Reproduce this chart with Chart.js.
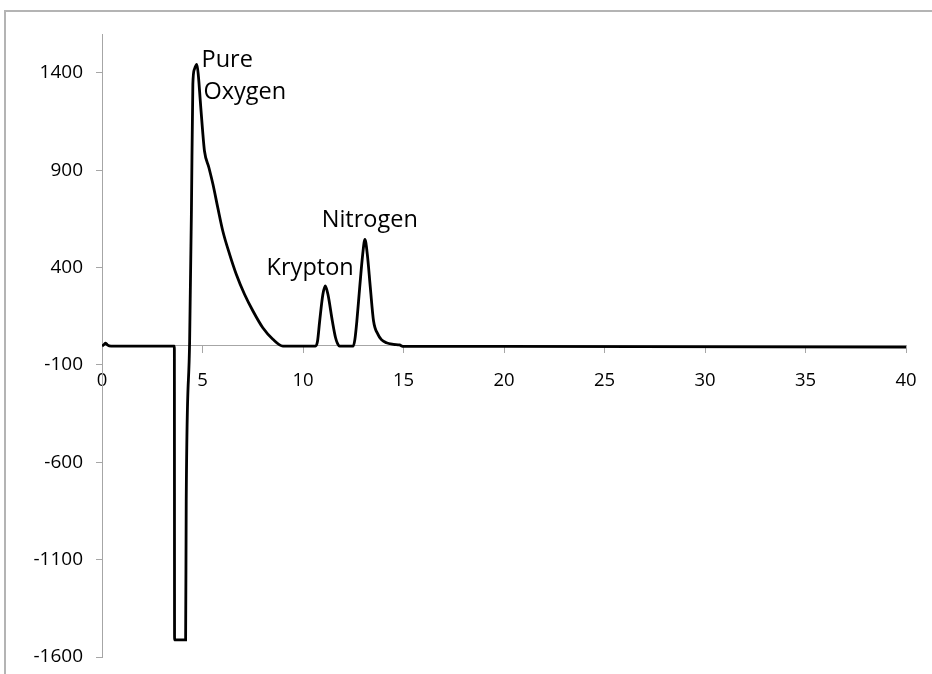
<!DOCTYPE html>
<html>
<head>
<meta charset="utf-8">
<script src="https://cdn.jsdelivr.net/npm/chart.js@4.4.1/dist/chart.umd.min.js"></script>
<style>
    html, body { margin: 0; padding: 0; background: #fff; }
    #wrap { position: relative; width: 932px; height: 674px; }
    #frame {
        position: absolute; left: 4px; top: 10px; right: -10px; bottom: -10px;
        border-left: 2px solid #b4b4b4; border-top: 2px solid #b4b4b4;
        pointer-events: none;
    }
</style>
</head>
<body>
<div id="wrap">
    <canvas id="chromChart" width="932" height="674"></canvas>
    <div id="frame"></div>
</div>
<script>
// Tiempo de retención (min) y señal del detector
const retentionTime = [
    0, 0.1, 0.18, 0.28, 0.45, 3.6,
    3.61, 4.16, 4.19, 4.36, 4.45, 4.52, 4.6, 4.72, 4.8, 4.89, 5.0, 5.1,
    5.32, 5.52, 5.76, 6.01, 6.35, 6.68, 7.09, 7.51, 8.0, 8.5, 9.0,
    10.62, 10.72, 10.83, 10.99, 11.11, 11.24, 11.46, 11.62, 11.72, 11.82,
    12.5, 12.58, 12.68, 12.82, 12.97, 13.08, 13.2, 13.35, 13.51, 13.73, 13.9, 14.15, 14.5, 14.8,
    15.0, 20, 40
];
const detectorSignal = [
    -3, 5, 12, 2, -3, -3,
    -1512, -1512, -800, 23, 700, 1342, 1420, 1444, 1380, 1256, 1110, 998,
    913, 828, 708, 588, 468, 366, 263, 177, 91, 32, -3,
    -3, 20, 126, 263, 306, 263, 126, 40, 10, -3,
    -3, 30, 126, 297, 468, 545, 468, 297, 126, 57, 30, 14, 6, 3,
    -5, -5, -8
];

// Marcas de los ejes
const xTicks = [0, 5, 10, 15, 20, 25, 30, 35, 40];
const yTicks = [-1600, -1100, -600, -100, 400, 900, 1400];

// Etiquetas de los picos (texto y punto de anclaje en unidades de datos)
const peakLabels = ['Pure', 'Oxygen', 'Krypton', 'Nitrogen'];
const labelX = [4.95, 5.05, 8.19, 10.93];
const labelY = [1429, 1268, 360, 609];

const axisGray = '#a6a6a6';
const fontFamily = '"Open Sans", sans-serif';

const peakLabelPlugin = {
    id: 'peakLabels',
    afterDatasetsDraw(chart) {
        const { ctx, scales: { x, y } } = chart;
        ctx.save();
        ctx.font = '23.5px ' + fontFamily;
        ctx.fillStyle = '#000';
        ctx.textAlign = 'left';
        ctx.textBaseline = 'alphabetic';
        peakLabels.forEach((txt, i) => {
            ctx.fillText(txt, x.getPixelForValue(labelX[i]), y.getPixelForValue(labelY[i]));
        });
        ctx.restore();
    }
};

const points = retentionTime.map((t, i) => ({ x: t, y: detectorSignal[i] }));

new Chart(document.getElementById('chromChart').getContext('2d'), {
    type: 'scatter',
    data: {
        datasets: [{
            data: points,
            showLine: true,
            borderColor: '#000',
            borderWidth: 2.8,
            pointRadius: 0,
            cubicInterpolationMode: 'monotone',
            fill: false
        }]
    },
    options: {
        responsive: false,
        animation: false,
        layout: { padding: { top: 34, right: 26, bottom: 17, left: 0 } },
        plugins: {
            legend: { display: false },
            tooltip: { enabled: false }
        },
        scales: {
            x: {
                type: 'linear',
                min: 0,
                max: 40,
                position: { y: 0 },
                afterBuildTicks: scale => { scale.ticks = xTicks.map(v => ({ value: v })); },
                afterFit: scale => {
                    scale.height = 0;
                    scale.paddingLeft = 0;
                    scale.paddingRight = 0;
                },
                border: { display: true, color: axisGray, width: 1 },
                grid: { drawOnChartArea: false, drawTicks: true, tickLength: 7, color: axisGray },
                ticks: {
                    color: '#000',
                    padding: 17,
                    maxRotation: 0,
                    callback: v => String(v),
                    font: { family: fontFamily, size: 18.5 }
                }
            },
            y: {
                type: 'linear',
                min: -1600,
                max: 1600,
                afterBuildTicks: scale => { scale.ticks = yTicks.map(v => ({ value: v })); },
                afterFit: scale => {
                    scale.width = 102;
                    scale.paddingTop = 0;
                    scale.paddingBottom = 0;
                },
                border: { display: true, color: axisGray, width: 1 },
                grid: { drawOnChartArea: false, drawTicks: true, tickLength: 6, color: axisGray },
                ticks: {
                    color: '#000',
                    padding: 13,
                    callback: v => String(v),
                    font: { family: fontFamily, size: 19 }
                }
            }
        }
    },
    plugins: [peakLabelPlugin]
});
</script>
</body>
</html>
